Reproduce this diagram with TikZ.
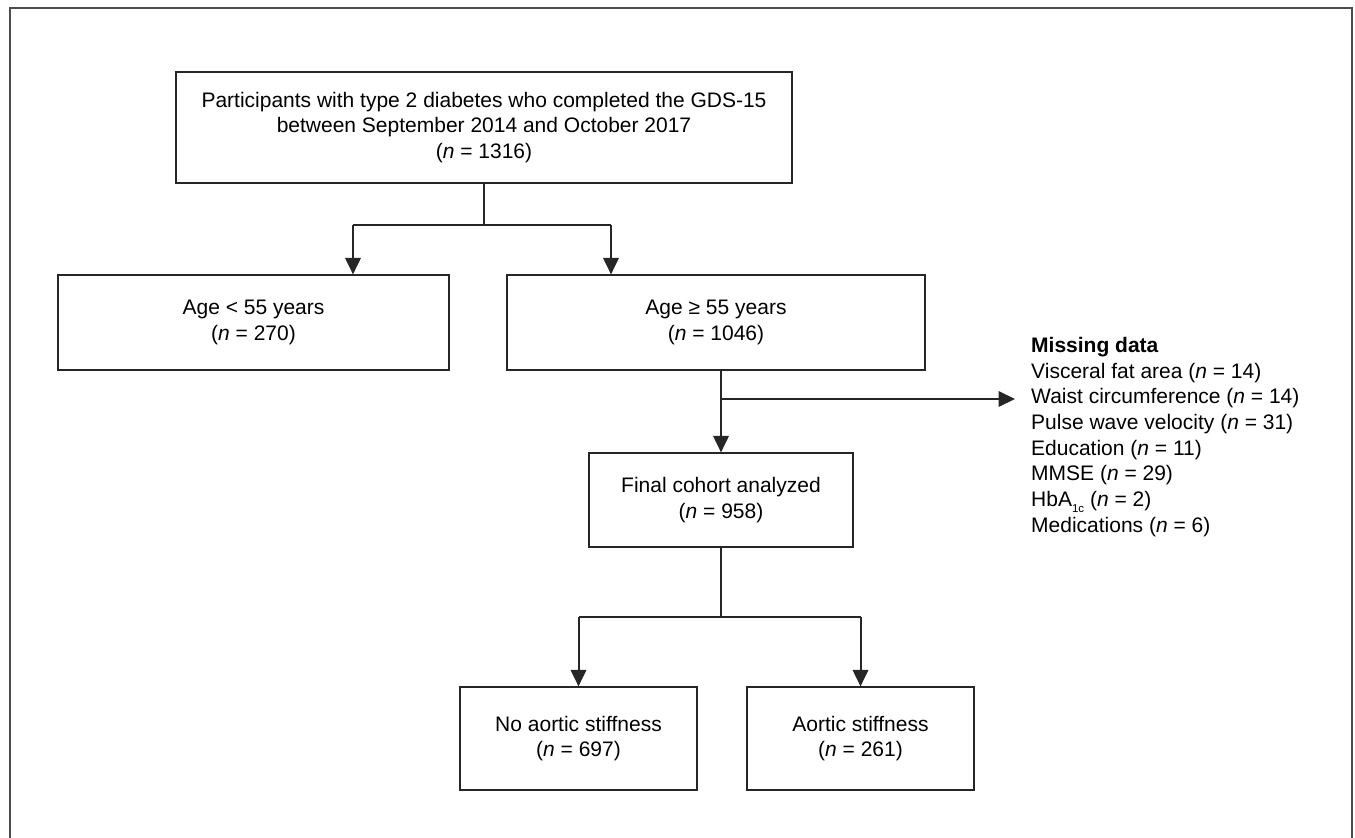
\documentclass[tikz,border=0pt]{standalone}
\usepackage{fontspec}
\setmainfont{Liberation Sans}
\usetikzlibrary{arrows.meta}

\newcommand{\nn}{\textit{n}}

\begin{document}
\begin{tikzpicture}
[x=1pt,y=-1pt,>={Triangle[length=16.5pt,width=15.5pt]},
 font={\fontsize{21}{25.7}\selectfont}]
  \tikzstyle{box}=[draw=black!85,line width=1.2pt,align=center,inner sep=4pt]
  \tikzstyle{link}=[draw=black!85,line width=1.2pt]
  \tikzstyle{flow}=[draw=black!85,fill=black!85,line width=2pt,->]

  \useasboundingbox (0,0) rectangle (1355,838);
  \draw[black!70,line width=2pt] (9.5,840) -- (9.5,8) -- (1352,8) -- (1352,840);

  \node[box,minimum width=616pt,minimum height=111pt] (GDS) at (484,127.5)
    {Participants with type 2 diabetes who completed the GDS-15\\between September 2014 and October 2017\\(\nn{} = 1316)};
  \node[box,minimum width=391pt,minimum height=95pt] (Young) at (253.5,322.5)
    {Age < 55 years\\(\nn{} = 270)};
  \node[box,minimum width=418pt,minimum height=95pt] (Old) at (716,322.5)
    {Age ≥ 55 years\\(\nn{} = 1046)};
  \node[box,minimum width=264pt,minimum height=94pt] (Final) at (721,500)
    {Final cohort analyzed\\(\nn{} = 958)};
  \node[box,minimum width=237pt,minimum height=103pt] (NoAS) at (578.5,738.5)
    {No aortic stiffness\\(\nn{} = 697)};
  \node[box,minimum width=227pt,minimum height=103pt] (AS) at (860.5,738.5)
    {Aortic stiffness\\(\nn{} = 261)};
  \node[anchor=north west,inner sep=0pt,align=left] (Miss) at (1031,337)
    {\textbf{Missing data}\\Visceral fat area (\nn{} = 14)\\Waist circumference (\nn{} = 14)\\
     Pulse wave velocity (\nn{} = 31)\\Education (\nn{} = 11)\\MMSE (\nn{} = 29)\\
     HbA\raisebox{-0.5ex}{\fontsize{11.5}{11.5}\selectfont 1c} (\nn{} = 2)\\Medications (\nn{} = 6)};

  % age split
  \coordinate (J1) at (GDS.south |- 0,225);
  \coordinate (JY) at (353,225);
  \coordinate (JO) at (611,225);
  \draw[link] (GDS.south) -- (J1);
  \draw[link] (JY) -- (JO);
  \draw[flow] (JY) -- (JY |- Young.north);
  \draw[flow] (JO) -- (JO |- Old.north);

  % exclusions
  \coordinate (J2) at (Final.north |- 0,399);
  \coordinate (MissIn) at (1015,399);
  \draw[flow] (Old.south -| Final.north) -- (Final.north);
  \draw[flow] (J2) -- (MissIn);

  % outcome split
  \coordinate (J3) at (Final.south |- 0,617);
  \coordinate (JN) at (NoAS.north |- J3);
  \coordinate (JA) at (AS.north |- J3);
  \draw[link] (Final.south) -- (J3);
  \draw[link] (JN) -- (JA);
  \draw[flow] (JN) -- (NoAS.north);
  \draw[flow] (JA) -- (AS.north);
\end{tikzpicture}
\end{document}
